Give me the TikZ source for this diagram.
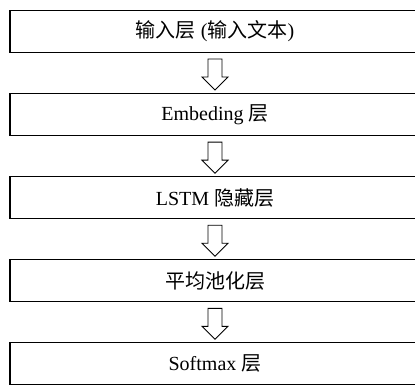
\documentclass[tikz,border=0pt]{standalone}
\usepackage{fontspec}
\setmainfont{Liberation Serif}
\newfontfamily\cjk{Noto Sans CJK SC}
\usetikzlibrary{positioning, calc}

% hollow block arrow from one layer down to the next
\newcommand{\layerarrow}[2]{%
  \draw[hollow] ($(#1.south)+(-7,-6)$) -- ($(#2.north)+(-7,16)$) -- ++(-6,0)
    -- ($(#2.north)+(0,3)$) -- ($(#2.north)+(13,16)$) -- ++(-6,0)
    -- ($(#1.south)+(7,-6)$) -- cycle;}

\begin{document}
\begin{tikzpicture}[
  x=1pt, y=1pt,
  font=\fontsize{20}{24}\selectfont,
  layer/.style={draw, line width=1.1pt, minimum width=410pt, minimum height=42pt, inner sep=2pt},
  hollow/.style={draw, line width=0.9pt, fill=white, line join=miter},
]
\useasboundingbox (0,0) rectangle (415,-385);

% layers
\node[layer] (in) at (215,-31.5) {{\cjk 输入层} ({\cjk 输入文本})};
\node[layer, below=40pt of in] (emb) {Embeding {\cjk 层}};
\node[layer, below=40pt of emb] (lstm) {LSTM {\cjk 隐藏层}};
\node[layer, below=40pt of lstm] (pool) {{\cjk 平均池化层}};
\node[layer, below=40pt of pool] (soft) {Softmax {\cjk 层}};

% arrows
\layerarrow{in}{emb}
\layerarrow{emb}{lstm}
\layerarrow{lstm}{pool}
\layerarrow{pool}{soft}

\end{tikzpicture}
\end{document}
